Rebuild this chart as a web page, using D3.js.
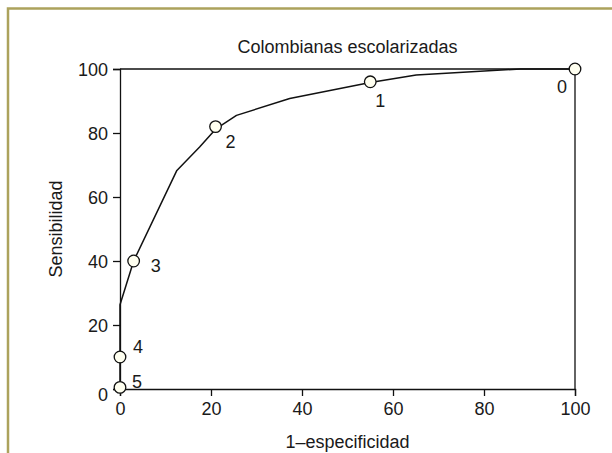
<!DOCTYPE html>
<html><head><meta charset="utf-8">
<script src="https://cdn.jsdelivr.net/npm/d3@7"></script>
<style>
body{margin:0;background:#fff;}
svg{display:block;}
text{font-family:"Liberation Sans","Arial",sans-serif;fill:#1a1a1a;}
</style></head>
<body>
<svg id="c" width="612" height="453"></svg>
<script>
// ---- data ----
const title = "Colombianas escolarizadas";
const xLabel = "1–especificidad";
const yLabel = "Sensibilidad";
const curveX = [0, 0, 3, 12.5, 17.5, 21, 25.6, 37.3, 55, 65.1, 88, 100];
const curveY = [0, 26.3, 40, 68.3, 75.6, 81.2, 85.5, 90.8, 95.8, 98.1, 100, 100];
const pointX = [0, 0, 3, 21, 55, 100];
const pointY = [0.5, 10, 40, 82, 96, 100];
const pointLabels = ["5", "4", "3", "2", "1", "0"];
const xTicks = [0, 20, 40, 60, 80, 100];
const yTicks = [0, 20, 40, 60, 80, 100];

// ---- layout ----
const svg = d3.select("#c");
const L = 120, R = 575, T = 69, B = 389;
const x = d3.scaleLinear().domain([0, 100]).range([L, R]);
const y = d3.scaleLinear().domain([0, 100]).range([B, T]);

// outer border (top and left)
svg.append("path").attr("d", `M8,612 L8,8.5 L612,8.5`)
  .attr("fill", "none").attr("stroke", "#aca25c").attr("stroke-width", 2.5);

// frame (top & right)
svg.append("path").attr("d", `M${L},${T} L${R},${T} L${R},${B}`)
  .attr("fill", "none").attr("stroke", "#111").attr("stroke-width", 1.3);

const fs = "18px";
const gx = svg.append("g").attr("transform", `translate(0,${B})`)
  .call(d3.axisBottom(x).tickValues(xTicks).tickSize(7).tickPadding(6).tickFormat(d3.format("d")));
const gy = svg.append("g").attr("transform", `translate(${L},0)`)
  .call(d3.axisLeft(y).tickValues(yTicks).tickSize(7).tickPadding(5).tickFormat(d3.format("d")));
[gx, gy].forEach(g => {
  g.select(".domain").attr("stroke", "#111").attr("stroke-width", 1.3);
  g.selectAll(".tick line").attr("stroke", "#111").attr("stroke-width", 1.3);
  g.selectAll(".tick text").attr("font-size", fs).attr("fill", "#1a1a1a")
    .attr("font-family", '"Liberation Sans","Arial",sans-serif');
});
gy.selectAll(".tick text").attr("dy", d => d === 0 ? "0.62em" : "0.36em");

// titles
svg.append("text").attr("x", (L + R) / 2).attr("y", 53).attr("text-anchor", "middle")
  .attr("font-size", fs).text(title);
svg.append("text").attr("x", (L + R) / 2).attr("y", 448).attr("text-anchor", "middle")
  .attr("font-size", fs).text(xLabel);
svg.append("text").attr("transform", `translate(62,${(T + B) / 2}) rotate(-90)`)
  .attr("text-anchor", "middle").attr("font-size", fs).text(yLabel);

// curve
const curve = curveX.map((d, i) => [d, curveY[i]]);
svg.append("path").datum(curve)
  .attr("d", d3.line().x(d => x(d[0])).y(d => y(d[1])))
  .attr("fill", "none").attr("stroke", "#111").attr("stroke-width", 1.5)
  .attr("stroke-linejoin", "round");

// points
const pts = pointX.map((d, i) => ({ x: d, y: pointY[i], l: pointLabels[i] }));
const labelOffset = { "5": [12, 1], "4": [13, -4], "3": [17, 11], "2": [10, 21], "1": [5, 25], "0": [-18, 24] };
svg.selectAll("circle.pt").data(pts).enter().append("circle").attr("class", "pt")
  .attr("cx", d => x(d.x)).attr("cy", d => y(d.y)).attr("r", 5.8)
  .attr("fill", "#fffff0").attr("stroke", "#111").attr("stroke-width", 1.3);
svg.selectAll("text.pl").data(pts).enter().append("text").attr("class", "pl")
  .attr("x", d => x(d.x) + labelOffset[d.l][0]).attr("y", d => y(d.y) + labelOffset[d.l][1])
  .attr("font-size", fs).text(d => d.l);
</script>
</body></html>
